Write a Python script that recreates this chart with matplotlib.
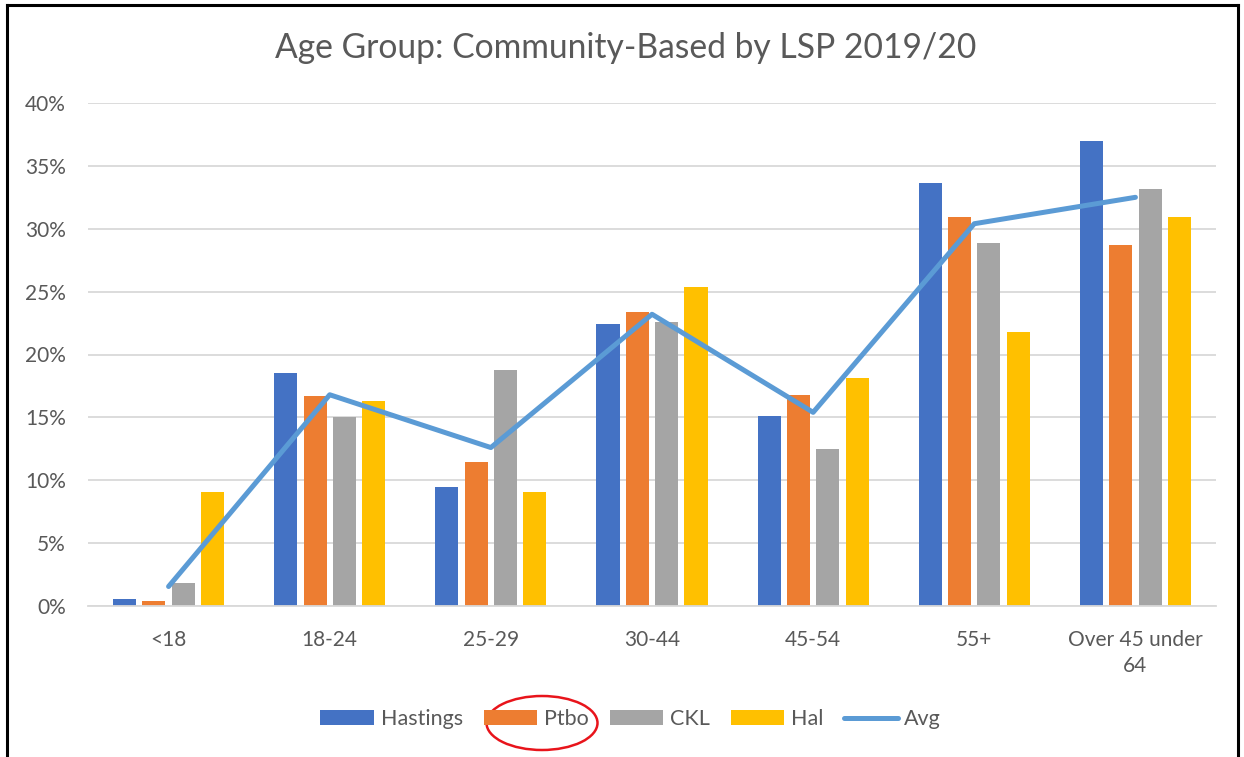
import matplotlib
matplotlib.use("Agg")
import matplotlib.pyplot as plt
import numpy as np
from matplotlib.lines import Line2D
from matplotlib.patches import Ellipse
from matplotlib.ticker import PercentFormatter

categories = ["<18", "18-24", "25-29", "30-44", "45-54", "55+", "Over 45 under\n64"]
hastings = [0.55, 18.5, 9.5, 22.4, 15.1, 33.6, 37.0]
ptbo = [0.4, 16.7, 11.45, 23.4, 16.75, 30.9, 28.7]
ckl = [1.8, 15.0, 18.8, 22.6, 12.5, 28.9, 33.2]
hal = [9.05, 16.3, 9.05, 25.4, 18.1, 21.8, 30.9]
avg = [1.55, 16.8, 12.6, 23.2, 15.4, 30.4, 32.5]

series = ["Hastings", "Ptbo", "CKL", "Hal"]
colors = ["#4472C4", "#ED7D31", "#A5A5A5", "#FFC000"]
text_color = "#595959"

plt.rcParams["font.family"] = ["Lato", "DejaVu Sans"]

fig = plt.figure(figsize=(12.44, 7.57), dpi=100)
ax = fig.add_axes([88 / 1244, 1 - 606 / 757, (1216 - 88) / 1244, (606 - 103) / 757])

x = np.arange(len(categories))
step = 0.182
width = 0.143
handles = []
for i, (name, vals, c) in enumerate(zip(series, [hastings, ptbo, ckl, hal], colors)):
    h = ax.bar(x + (i - 1.5) * step, np.array(vals) / 100, width, color=c, label=name, zorder=2)
    handles.append(h)

line, = ax.plot(x, np.array(avg) / 100, color="#5B9BD5", lw=3.6, solid_capstyle="round",
                solid_joinstyle="round", label="Avg", zorder=3)
handles.append(line)

ax.set_xlim(-0.5, len(categories) - 0.5)
ax.set_ylim(0, 0.40)
ax.set_yticks(np.arange(0, 0.41, 0.05))
ax.yaxis.set_major_formatter(PercentFormatter(1.0, decimals=0))
ax.grid(axis="y", color="#D9D9D9", lw=1.3, zorder=0)
ax.set_xticks(x)
ax.set_xticklabels(categories, linespacing=1.4)
ax.tick_params(axis="both", length=0, labelsize=15, labelcolor=text_color)
ax.tick_params(axis="y", pad=16)
ax.tick_params(axis="x", pad=17)
for s in ["top", "right", "left"]:
    ax.spines[s].set_visible(False)
ax.spines["bottom"].set_color("#D9D9D9")
ax.spines["bottom"].set_linewidth(1.3)

fig.text(0.503, 1 - 48 / 757, "Age Group: Community-Based by LSP 2019/20",
         ha="center", va="center", fontsize=24.2, color=text_color)

leg = fig.legend(handles=handles, labels=series + ["Avg"], loc="center",
                 bbox_to_anchor=(0.507, 1 - 719 / 757), ncol=5,
                 frameon=False, fontsize=15.5, handlelength=2.5, handleheight=0.65,
                 handletextpad=0.3, columnspacing=0.97)
for t in leg.get_texts():
    t.set_color(text_color)

# frame around the chart
fig.add_artist(Line2D([7 / 1244, 7 / 1244], [0, 1 - 5 / 757], color="black", lw=2.2,
                      transform=fig.transFigure))
fig.add_artist(Line2D([7 / 1244, 1238 / 1244], [1 - 5 / 757, 1 - 5 / 757], color="black",
                      lw=2.2, transform=fig.transFigure))
fig.add_artist(Line2D([1238 / 1244, 1238 / 1244], [0, 1 - 5 / 757], color="black", lw=2.2,
                      transform=fig.transFigure))

# red ellipse around Ptbo
fig.add_artist(Ellipse((542 / 1244, 1 - 723 / 757), 111 / 1244, 54 / 757, fill=False,
                       edgecolor="#E8141B", lw=1.8, transform=fig.transFigure))

fig.savefig("out.png", dpi=100)
